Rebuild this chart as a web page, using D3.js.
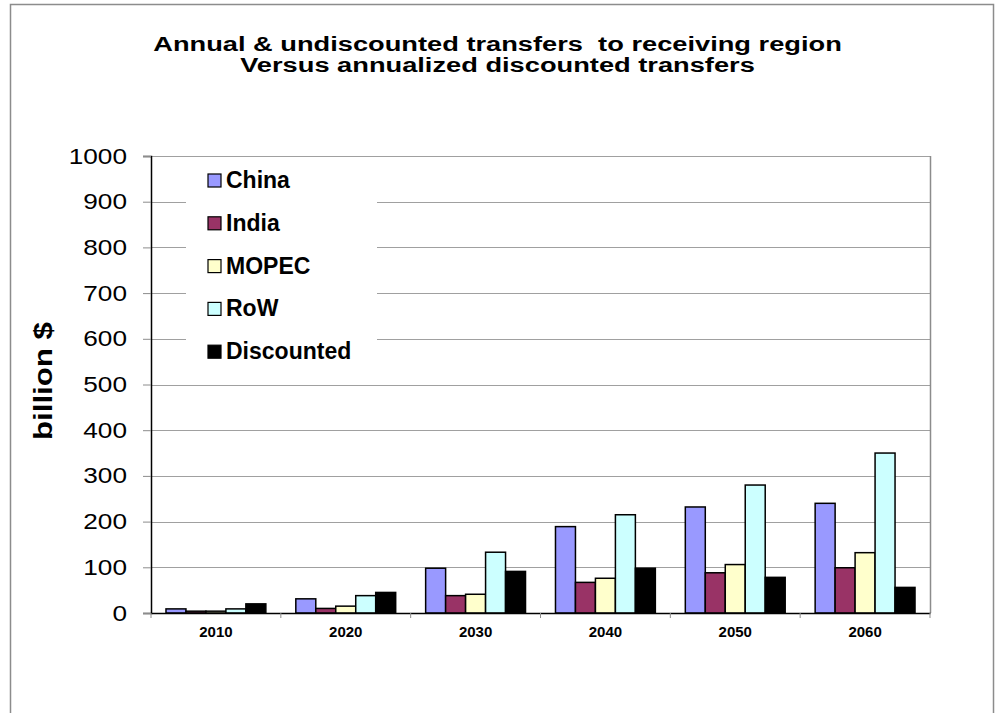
<!DOCTYPE html>
<html>
<head>
<meta charset="utf-8">
<script src="https://cdn.jsdelivr.net/npm/d3@7"></script>
<style>
    body { margin: 0; background: #fff; }
    svg { font-family: Arial, "Liberation Sans", sans-serif; display: block; }
</style>
</head>
<body>
<div id="chart"></div>
<script>
// chart data
const years = ['2010', '2020', '2030', '2040', '2050', '2060'];
const seriesNames = ['China', 'India', 'MOPEC', 'RoW', 'Discounted'];
const china = [9, 31, 98, 189, 232, 240];
const india = [4, 10, 38, 67, 88, 99];
const mopec = [4, 15, 41, 76, 106, 132];
const row = [9, 38, 133, 215, 280, 350];
const discounted = [20, 45, 91, 98, 78, 56];
const yTicks = [0, 100, 200, 300, 400, 500, 600, 700, 800, 900, 1000];
const colors = ['#9999ff', '#993366', '#ffffcc', '#ccffff', '#000000'];
const titleLines = ['Annual & undiscounted transfers  to receiving region', 'Versus annualized discounted transfers'];

const seriesValues = [china, india, mopec, row, discounted];
const data = years.map((year, i) => ({
    year: year,
    values: seriesNames.map((name, j) => ({ name: name, value: seriesValues[j][i] }))
}));

const width = 1000;
const height = 713;
const margin = { left: 151, right: 70, top: 156, bottom: 100 };

// the source renders its text wider than Arial, stretch to match
function stretch (sel, factor) {
    sel.each(function () {
        const len = this.getComputedTextLength();
        this.setAttribute('textLength', len * factor);
        this.setAttribute('lengthAdjust', 'spacingAndGlyphs');
    });
}

const svg = d3.select('#chart').append('svg')
    .attr('width', width)
    .attr('height', height);

// outer frame
svg.append('rect')
    .attr('x', 10.5).attr('y', 4.5)
    .attr('width', 983).attr('height', 720)
    .attr('fill', 'none')
    .attr('stroke', '#8c8c8c')
    .attr('stroke-width', 1.5);

const plotW = width - margin.left - margin.right;
const plotH = 613 - margin.top;

const scaleX = d3.scaleBand().domain(years).range([0, plotW]).padding(0);
const scaleInner = d3.scaleBand().domain(seriesNames).range([0, scaleX.bandwidth()])
    .paddingInner(0).paddingOuter(0.75);
const scaleY = d3.scaleLinear().domain([0, 1000]).range([plotH, 0]);

const body = svg.append('g')
    .attr('transform', `translate(${margin.left}, ${margin.top})`);

// gridlines
body.append('g')
    .selectAll('line')
    .data(yTicks.filter(d => d > 0))
    .join('line')
    .attr('x1', 0).attr('x2', plotW)
    .attr('y1', d => Math.round(scaleY(d)) + 0.5)
    .attr('y2', d => Math.round(scaleY(d)) + 0.5)
    .attr('stroke', '#a0a0a0')
    .attr('stroke-width', 1.2);

// right border of plot area
body.append('line')
    .attr('x1', plotW + 0.5).attr('x2', plotW + 0.5)
    .attr('y1', 0).attr('y2', plotH)
    .attr('stroke', '#8c8c8c')
    .attr('stroke-width', 1.5);

// bars
const groups = body.append('g')
    .selectAll('g')
    .data(data)
    .join('g')
    .attr('transform', d => `translate(${scaleX(d.year)}, 0)`);

groups.selectAll('rect')
    .data(d => d.values)
    .join('rect')
    .attr('x', d => scaleInner(d.name))
    .attr('y', d => scaleY(d.value))
    .attr('width', scaleInner.bandwidth())
    .attr('height', d => plotH - scaleY(d.value))
    .attr('fill', (d, i) => colors[i])
    .attr('stroke', '#000')
    .attr('stroke-width', 1.5);

// y axis
const axisY = d3.axisLeft(scaleY).tickValues(yTicks).tickFormat(d3.format('d'))
    .tickSize(8).tickPadding(16);
const axisYGroup = body.append('g').call(axisY);
axisYGroup.select('.domain').attr('stroke', '#000').attr('stroke-width', 1.5);
axisYGroup.selectAll('.tick line').attr('stroke', '#8c8c8c');
axisYGroup.selectAll('.tick text')
    .attr('font-size', 22)
    .attr('fill', '#000')
    .attr('font-family', 'Arial, "Liberation Sans", sans-serif')
    .call(stretch, 1.19);

// x axis
const axisX = d3.axisBottom(scaleX).tickSize(0);
const axisXGroup = body.append('g')
    .attr('transform', `translate(0, ${plotH})`)
    .call(axisX);
axisXGroup.select('.domain').attr('stroke', '#000').attr('stroke-width', 1.5);
axisXGroup.selectAll('.tick text')
    .attr('dy', null)
    .attr('y', 24)
    .attr('font-size', 15)
    .attr('font-weight', 'bold')
    .attr('fill', '#000')
    .attr('font-family', 'Arial, "Liberation Sans", sans-serif');

// category separators under the baseline
axisXGroup.append('g')
    .selectAll('line')
    .data(d3.range(years.length + 1))
    .join('line')
    .attr('x1', i => i * scaleX.step())
    .attr('x2', i => i * scaleX.step())
    .attr('y1', 0).attr('y2', 5)
    .attr('stroke', '#8c8c8c');

// legend
const legend = svg.append('g').attr('transform', 'translate(186, 162)');
legend.append('rect')
    .attr('width', 191).attr('height', 216)
    .attr('fill', '#fff');
const legendItems = legend.selectAll('g.item')
    .data(seriesNames)
    .join('g')
    .classed('item', true)
    .attr('transform', (d, i) => `translate(22, ${26 + i * 42.8})`);
legendItems.append('rect')
    .attr('x', 0).attr('y', -14)
    .attr('width', 13).attr('height', 13)
    .attr('fill', (d, i) => colors[i])
    .attr('stroke', '#000')
    .attr('stroke-width', 1.2);
legendItems.append('text')
    .attr('x', 18).attr('y', 0)
    .attr('font-size', 23)
    .attr('font-weight', 'bold')
    .text(d => d);

// title, scaled horizontally so line one spans the same width as the source
const titleGroup = svg.append('g');
const titleText = titleGroup.selectAll('text')
    .data(titleLines)
    .join('text')
    .attr('x', 0)
    .attr('y', (d, i) => 51.5 + i * 21)
    .attr('text-anchor', 'middle')
    .attr('font-size', 21)
    .attr('font-weight', 'bold')
    .style('white-space', 'pre')
    .text(d => d);
const titleScale = 689 / titleText.node().getComputedTextLength();
titleGroup.attr('transform', `translate(497.5, 0) scale(${titleScale}, 1)`);

// y axis title
svg.append('text')
    .attr('transform', 'translate(52, 381) rotate(-90)')
    .attr('text-anchor', 'middle')
    .attr('font-size', 26)
    .attr('font-weight', 'bold')
    .attr('textLength', 118)
    .attr('lengthAdjust', 'spacingAndGlyphs')
    .text('billion $');
</script>
</body>
</html>
